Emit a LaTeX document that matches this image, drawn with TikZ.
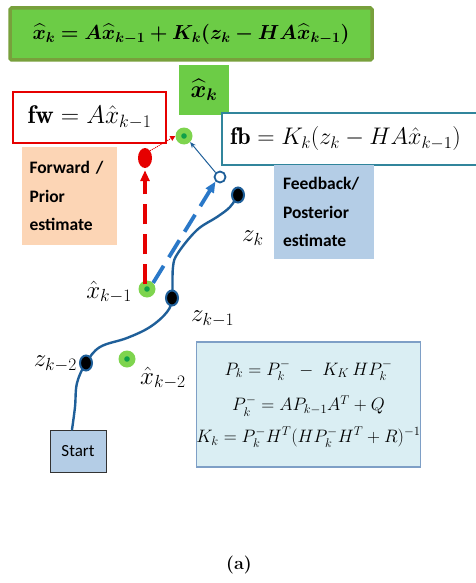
\RequirePackage{fix-cm}
\documentclass[tikz,border=0pt]{standalone}
\usepackage{amsmath,amssymb}
\usepackage{bm}
\usepackage{fontspec}
\setsansfont{Carlito}
\usepackage{tikz}
\usetikzlibrary{arrows.meta,positioning,shapes.geometric}

\definecolor{kfgreen}{HTML}{6CCC46}
\definecolor{kfgreenline}{HTML}{78A03C}
\definecolor{dotgreen}{HTML}{7ED44E}
\definecolor{dotcore}{HTML}{10A048}
\definecolor{kfred}{HTML}{E60000}
\definecolor{kfteal}{HTML}{31859C}
\definecolor{peach}{HTML}{FCD5B5}
\definecolor{steel}{HTML}{B4CDE6}
\definecolor{pathblue}{HTML}{1F5F99}
\definecolor{dashblue}{HTML}{2A78C8}
\definecolor{eqfill}{HTML}{DAEEF3}
\definecolor{eqline}{HTML}{7E9FC6}

\begin{document}
\begin{tikzpicture}[x=1pt, y=-1pt,
  arr/.style={-{Triangle[length=11pt,width=9pt]}, line width=3.8pt, dash pattern=on 20pt off 10pt},
  thinarr/.style={-{Stealth[length=6pt,width=5pt]}, line width=1pt},
  gdot/.style={circle, fill=dotgreen, minimum size=17pt, inner sep=0pt,
               path picture={\fill[dotcore] (path picture bounding box.center) circle (2.8pt);}},
  zdot/.style={ellipse, fill=black, draw=pathblue, line width=2pt, minimum width=12pt,
               minimum height=15pt, inner sep=0pt},
  lbl/.style={font=\fontsize{25}{27}\selectfont, inner sep=0pt},
  eqbox/.style={draw, line width=2.5pt, fill=white, inner sep=0pt, font=\fontsize{24}{26}\selectfont},
  notebox/.style={inner sep=0pt, font=\fontsize{17.5}{28.5}\selectfont\sffamily\bfseries, align=left},
]
\useasboundingbox (0,0) rectangle (475,583);

% Update equation
\node[draw=kfgreenline, line width=3.5pt, fill=kfgreen, rounded corners=1.5pt,
      minimum width=362pt, minimum height=52pt, inner sep=0pt,
      font=\fontsize{20.3}{22}\selectfont] (update) at (191,34)
  {$\bm{\widehat{x}_k = A\widehat{x}_{k-1} + K_k(z_k - HA\widehat{x}_{k-1})}$};
\node[fill=kfgreen, minimum width=50pt, minimum height=50pt, inner sep=0pt,
      font=\fontsize{24}{26}\selectfont] (xkbox) at (204,90) {$\bm{\widehat{x}_k}$};

% Forward / feedback terms
\node[eqbox, draw=kfred, minimum width=153pt, minimum height=51pt, font=\fontsize{25.5}{27}\selectfont]
  (fw) at (89.5,117.5) {$\mathbf{fw} = A\hat{x}_{k-1}$};
\node[notebox, fill=peach, minimum width=95pt, minimum height=98pt, text width=80pt] (fwnote) at (69.5,196)
  {Forward /\\Prior\\estimate};
\node[eqbox, draw=kfteal, minimum width=256pt, minimum height=52pt] (fb) at (350,139)
  {\hspace*{-9pt}$\mathbf{fb} = K_k(z_k - HA\hat{x}_{k-1})$};
\node[notebox, fill=steel, minimum width=100pt, minimum height=94pt, text width=82pt] (fbnote) at (324,212)
  {Feedback/\\Posterior\\estimate};

% Covariance and gain
\node[draw=eqline, line width=1.5pt, fill=eqfill, minimum width=223pt, minimum height=125pt,
      inner sep=0pt, align=center, font=\fontsize{18}{20}\selectfont] (cov) at (308.5,404.5)
  {$P_k = P_k^{-} \;-\; K_K\,HP_k^{-}$\\[14pt]
   $P_k^{-} = AP_{k-1}A^T + Q$\\[10pt]
   $K_k = P_k^{-}H^T(HP_k^{-}H^T + R)^{-1}$\\[-14pt]\mbox{}};

\node[draw=black!80, line width=0.8pt, fill=steel, minimum width=56pt, minimum height=42pt,
      inner sep=0pt, font=\fontsize{17}{19}\selectfont\sffamily] (start) at (78,451) {Start};

% Measurement track
\coordinate (zkm2) at (86,363);
\coordinate (zkm1) at (172,298);
\coordinate (zk) at (238,195);
\draw[pathblue, line width=2.4pt, line cap=round] plot[smooth, tension=0.6] coordinates {
  ([xshift=-6pt]start.north) (75,407) (77,383) (zkm2) (100,347) (127,338) (150,327) (167,312)
  (zkm1) (173,267) (178,253) (197,230) (217,217) (230,207) (zk)};
\node[zdot] (zkm2dot) at (zkm2) {};
\node[zdot] (zkm1dot) at (zkm1) {};
\node[zdot] (zkdot) at (zk) {};

% Estimates
\node[gdot] (xkm2) at (127,359) {};
\node[gdot] (xkm1) at (147,289) {};
\node[gdot] (xk) at (184,136) {};
\node[ellipse, fill=kfred, minimum width=14pt, minimum height=20pt, inner sep=0pt] (prior) at (145,158) {};
\node[circle, draw=pathblue, line width=1.8pt, fill=white, minimum size=11pt, inner sep=0pt] (post) at (220,177) {};

% Prediction and correction
\draw[arr, kfred] ([yshift=-4pt]xkm1.north -| prior) -- ([yshift=-2pt]prior.south);
\draw[arr, dashblue] (xkm1.north east) -- (post.south west);
\draw[-{Triangle[length=5pt,width=5pt]}, kfred, line width=1pt, densely dotted] (prior.north east) -- (xk.west);
\draw[thinarr, pathblue] (post.north west) -- (xk.south east);

% Labels
\node[lbl, anchor=east] at (132,292) {$\hat{x}_{k-1}$};
\node[lbl, anchor=west] at (140,378) {$\hat{x}_{k-2}$};
\node[lbl, anchor=east] at (77,364) {$z_{k-2}$};
\node[lbl, anchor=west] at (191,319) {$z_{k-1}$};
\node[lbl, anchor=west] at (242,238) {$z_k$};
\node[font=\fontsize{18}{20}\selectfont\bfseries] (cap) at (239,565) {(a)};
\end{tikzpicture}
\end{document}
